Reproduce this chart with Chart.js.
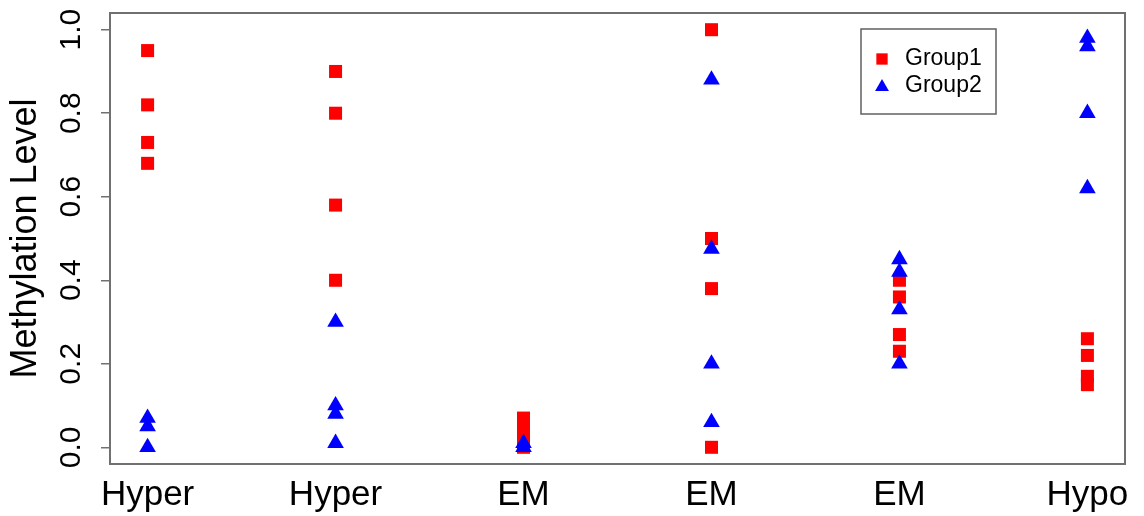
<!DOCTYPE html>
<html>
<head>
<meta charset="utf-8">
<script src="https://cdn.jsdelivr.net/npm/chart.js@4.4.1/dist/chart.umd.min.js"></script>
<style>
  body { margin: 0; background: #fff; }
  canvas { display: block; }
</style>
</head>
<body>
<canvas id="grafico" width="1144" height="516"></canvas>
<script>
// categorias e valores
const categorias = ['Hyper', 'Hyper', 'EM', 'EM', 'EM', 'Hypo'];
const grupo1 = [
  [0.95, 0.82, 0.73, 0.68],
  [0.90, 0.80, 0.58, 0.40],
  [0.07, 0.05, 0.03, 0.01, 0.0],
  [1.00, 0.50, 0.38, 0.0],
  [0.40, 0.36, 0.27, 0.23],
  [0.26, 0.22, 0.17, 0.15]
];
const grupo2 = [
  [0.07, 0.05, 0.0],
  [0.30, 0.10, 0.08, 0.01],
  [0.01, 0.0],
  [0.88, 0.475, 0.20, 0.06],
  [0.45, 0.42, 0.33, 0.20],
  [0.98, 0.96, 0.80, 0.62]
];
const ticksY = [0, 0.2, 0.4, 0.6, 0.8, 1.0];
const legendas = ['Group1', 'Group2'];

const fonte = '"Liberation Sans", Arial, sans-serif';

function pontos(grupo) {
  const out = [];
  grupo.forEach((vals, i) => vals.forEach(v => out.push({ x: i + 1, y: v })));
  return out;
}

// caixa em volta da área do gráfico + legenda estilo R
const caixa = {
  id: 'caixa',
  afterDraw(chart) {
    const { ctx, chartArea: a } = chart;
    ctx.save();
    ctx.strokeStyle = '#707070';
    ctx.lineWidth = 2;
    ctx.strokeRect(a.left, a.top, a.right - a.left, a.bottom - a.top);

    // legenda
    const lx = 861, ly = 29, lw = 135, lh = 85;
    ctx.fillStyle = '#fff';
    ctx.fillRect(lx, ly, lw, lh);
    ctx.strokeStyle = '#606060';
    ctx.lineWidth = 1.5;
    ctx.strokeRect(lx, ly, lw, lh);
    const estilos = [
      { pointStyle: 'rect', radius: 8, color: '#ff0000' },
      { pointStyle: 'triangle', radius: 8, color: '#0000ff' }
    ];
    const linhas = [59, 86];
    legendas.forEach((txt, i) => {
      ctx.fillStyle = estilos[i].color;
      ctx.strokeStyle = estilos[i].color;
      Chart.helpers.drawPoint(ctx, {
        pointStyle: estilos[i].pointStyle,
        radius: estilos[i].radius,
        borderWidth: 0,
        rotation: 0
      }, 882, linhas[i] + (i === 1 ? 1 : 0));
      ctx.fillStyle = '#000';
      ctx.font = '23px ' + fonte;
      ctx.textBaseline = 'middle';
      ctx.textAlign = 'left';
      ctx.fillText(txt, 905, linhas[i]);
    });
    ctx.restore();
  }
};

document.addEventListener('DOMContentLoaded', () => {
  const ctx = document.getElementById('grafico').getContext('2d');
  new Chart(ctx, {
    type: 'scatter',
    data: {
      datasets: [
        {
          label: legendas[0],
          data: pontos(grupo1),
          order: 1,
          pointStyle: 'rect',
          pointRadius: 9.2,
          pointBorderWidth: 0,
          backgroundColor: '#ff0000',
          borderColor: '#ff0000'
        },
        {
          label: legendas[1],
          data: pontos(grupo2),
          order: 0,
          pointStyle: 'triangle',
          pointRadius: 9.6,
          pointBorderWidth: 0,
          backgroundColor: '#0000ff',
          borderColor: '#0000ff'
        }
      ]
    },
    options: {
      responsive: false,
      animation: false,
      layout: { padding: { top: 13, right: 19, left: 0, bottom: 0 } },
      plugins: {
        legend: { display: false },
        tooltip: { enabled: false }
      },
      scales: {
        x: {
          type: 'linear',
          min: 0.8,
          max: 6.2,
          grid: { display: false },
          border: { display: false },
          afterBuildTicks: (scale) => {
            scale.ticks = categorias.map((c, i) => ({ value: i + 1 }));
          },
          afterFit: (scale) => {
            scale.height = 52;
            scale.paddingLeft = 0;
            scale.paddingRight = 0;
          },
          ticks: {
            autoSkip: false,
            maxRotation: 0,
            padding: 2,
            color: '#000',
            font: { family: fonte, size: 35 },
            callback: (v) => categorias[Math.round(v) - 1]
          }
        },
        y: {
          min: -0.04,
          max: 1.04,
          grid: {
            drawOnChartArea: false,
            drawTicks: true,
            tickLength: 9,
            color: '#707070',
            lineWidth: 1.5
          },
          border: { display: false },
          afterBuildTicks: (scale) => {
            scale.ticks = ticksY.map(v => ({ value: v }));
          },
          afterFit: (scale) => {
            scale.width = 110;
            scale.paddingTop = 0;
            scale.paddingBottom = 0;
          },
          title: {
            display: true,
            text: 'Methylation Level',
            color: '#000',
            font: { family: fonte, size: 36 },
            padding: { top: 4, bottom: 0 }
          },
          ticks: {
            autoSkip: false,
            minRotation: 90,
            maxRotation: 90,
            crossAlign: 'center',
            padding: 8,
            color: '#000',
            font: { family: fonte, size: 30 },
            callback: (v) => v.toFixed(1)
          }
        }
      }
    },
    plugins: [caixa]
  });
});
</script>
</body>
</html>
